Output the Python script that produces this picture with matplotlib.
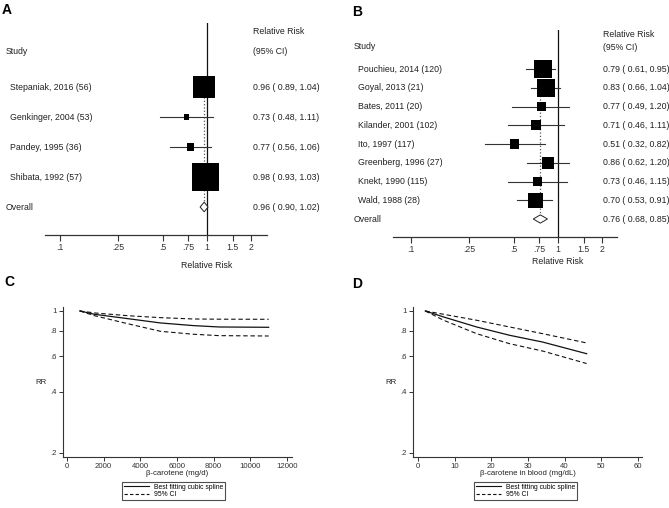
import numpy as np
import matplotlib
matplotlib.use("Agg")
from matplotlib import pyplot as plt
from matplotlib import transforms
from matplotlib.patches import Polygon
from matplotlib.lines import Line2D
from matplotlib.ticker import NullLocator

plt.rcParams['font.family'] = ['Liberation Sans', 'DejaVu Sans']

W, H = 669, 508

# panel A data
studies_a = ["Stepaniak, 2016 (56)", "Genkinger, 2004 (53)", "Pandey, 1995 (36)", "Shibata, 1992 (57)"]
rr_a = [0.96, 0.73, 0.77, 0.98]
lo_a = [0.89, 0.48, 0.56, 0.93]
hi_a = [1.04, 1.11, 1.06, 1.03]
wt_a = [36.7, 1.9, 3.7, 57.7]
overall_a = (0.96, 0.90, 1.02)

# panel B data
studies_b = ["Pouchieu, 2014 (120)", "Goyal, 2013 (21)", "Bates, 2011 (20)", "Kilander, 2001 (102)",
             "Ito, 1997 (117)", "Greenberg, 1996 (27)", "Knekt, 1990 (115)", "Wald, 1988 (28)"]
rr_b = [0.79, 0.83, 0.77, 0.71, 0.51, 0.86, 0.73, 0.70]
lo_b = [0.61, 0.66, 0.49, 0.46, 0.32, 0.62, 0.46, 0.53]
hi_b = [0.95, 1.04, 1.20, 1.11, 0.82, 1.20, 1.15, 0.91]
wt_b = [24.0, 24.0, 6.0, 6.7, 6.0, 10.7, 6.0, 16.7]
overall_b = (0.76, 0.68, 0.85)

rr_ticks = [0.1, 0.25, 0.5, 0.75, 1, 1.5, 2]
rr_ticklabels = [".1", ".25", ".5", ".75", "1", "1.5", "2"]

# panel C data (dose-response, intake)
dose_c = [700, 1500, 3300, 5100, 6900, 8300, 11000]
fit_c = [1.0, 0.963, 0.917, 0.873, 0.847, 0.834, 0.831]
up_c = [1.0, 0.978, 0.948, 0.927, 0.913, 0.911, 0.910]
low_c = [1.0, 0.948, 0.866, 0.794, 0.768, 0.756, 0.753]

# panel D data (dose-response, blood)
dose_d = [2, 7, 16, 25, 34, 46]
fit_d = [1.0, 0.934, 0.834, 0.759, 0.703, 0.616]
up_d = [1.0, 0.963, 0.900, 0.834, 0.773, 0.696]
low_d = [1.0, 0.900, 0.773, 0.690, 0.635, 0.551]

rr_yticks = [0.2, 0.4, 0.6, 0.8, 1]
rr_yticklabels = [".2", ".4", ".6", ".8", "1"]

TXT = '#222222'
FS = 6.3


def rect(x0, y0, x1, y1):
    return [x0 / W, 1 - y1 / H, (x1 - x0) / W, (y1 - y0) / H]


def forest(fig, box, xlim, ylim, studies, rr, lo, hi, wt, overall, lab_x, est_x, hdr_rows):
    ax = fig.add_axes(rect(*box))
    ax.set_xscale('log')
    ax.set_xlim(*xlim)
    ax.set_ylim(*ylim)
    for s in ['left', 'right', 'top']:
        ax.spines[s].set_visible(False)
    ax.spines['bottom'].set_linewidth(0.9)
    ax.spines['bottom'].set_color('#333333')
    ax.set_yticks([])
    ax.set_xticks(rr_ticks)
    ax.set_xticklabels(rr_ticklabels)
    ax.xaxis.set_minor_locator(NullLocator())
    ax.tick_params(axis='x', length=4, width=0.8, labelsize=FS, colors='#333333', pad=2)
    ax.axvline(1, color='#111111', lw=0.9, zorder=2)

    rows = np.arange(len(studies))
    ov_row = len(studies)
    tr = transforms.blended_transform_factory(fig.transFigure, ax.transData)

    for i in rows:
        ax.plot([lo[i], hi[i]], [i, i], color='#333333', lw=0.8, zorder=3)
    sides = 3.68 * np.sqrt(np.array(wt)) * 0.72
    ax.scatter(rr, rows, marker='s', s=sides ** 2, color='black', linewidths=0, zorder=4)

    ov, ol, oh = overall
    ax.plot([ov, ov], [0, ov_row], ls=':', color='#555555', lw=0.9, zorder=2.5)
    h = hdr_rows[3]
    ax.add_patch(Polygon([(ol, ov_row), (ov, ov_row - h), (oh, ov_row), (ov, ov_row + h)],
                         closed=True, facecolor='white', edgecolor='#222222', lw=0.7, zorder=5))

    for i in rows:
        ax.text(lab_x / W, i, studies[i], transform=tr, fontsize=FS, color=TXT, va='center')
        ax.text(est_x / W, i, f"{rr[i]:.2f} ( {lo[i]:.2f}, {hi[i]:.2f})", transform=tr,
                fontsize=FS, color=TXT, va='center')
    ax.text((lab_x - 4) / W, ov_row, "Overall", transform=tr, fontsize=FS, color=TXT, va='center')
    ax.text(est_x / W, ov_row, f"{ov:.2f} ( {ol:.2f}, {oh:.2f})", transform=tr,
            fontsize=FS, color=TXT, va='center')
    ax.text((lab_x - 4) / W, hdr_rows[0], "Study", transform=tr, fontsize=FS, color=TXT, va='center')
    ax.text(est_x / W, hdr_rows[1], "Relative Risk", transform=tr, fontsize=FS, color=TXT, va='center')
    ax.text(est_x / W, hdr_rows[2], "(95% CI)", transform=tr, fontsize=FS, color=TXT, va='center')
    return ax


def spline_panel(fig, box, xlim, xticks, xlabel, x, fit, up, low, legend_xy):
    ax = fig.add_axes(rect(*box))
    ax.plot(x, fit, color='#111111', lw=0.9)
    ax.plot(x, up, color='#111111', lw=0.8, ls=(0, (4, 2.5)))
    ax.plot(x, low, color='#111111', lw=0.8, ls=(0, (4, 2.5)))
    ax.set_xlim(*xlim)
    ax.set_yscale('log')
    ax.set_ylim(0.191, 1.046)
    ax.set_yticks(rr_yticks)
    ax.set_yticklabels(rr_yticklabels)
    ax.yaxis.set_minor_locator(NullLocator())
    ax.set_xticks(xticks)
    for s in ['right', 'top']:
        ax.spines[s].set_visible(False)
    for s in ['left', 'bottom']:
        ax.spines[s].set_linewidth(0.8)
        ax.spines[s].set_color('#333333')
    ax.tick_params(length=3, width=0.7, labelsize=5.6, colors='#333333', pad=1.5)
    ax.set_xlabel(xlabel, fontsize=5.6, color=TXT, labelpad=-0.5)
    ax.set_ylabel("RR", fontsize=5.6, color=TXT, rotation=0, labelpad=7, va='center')
    handles = [Line2D([], [], color='#111111', lw=0.8),
               Line2D([], [], color='#111111', lw=0.8, ls=(0, (3, 2)))]
    leg = fig.legend(handles, ["Best fitting cubic spline", "95% CI"], loc='upper left',
                     bbox_to_anchor=(legend_xy[0] / W, 1 - legend_xy[1] / H),
                     fontsize=4.85, frameon=True, fancybox=False, borderpad=0.25,
                     handlelength=3.7, handletextpad=0.75, labelspacing=0.1, borderaxespad=0)
    leg.get_frame().set_edgecolor('#222222')
    leg.get_frame().set_linewidth(0.8)
    return ax


fig = plt.figure(figsize=(W / 100, H / 100), dpi=100)

# A: x-axis line from px 45 to 267, rows from y=87 step 30
forest(fig, (45, 23, 267, 235), (10 ** -1.102, 10 ** 0.410),
       ((235 - 87) / 30, (23 - 87) / 30),
       studies_a, rr_a, lo_a, hi_a, wt_a, overall_a, 10, 253,
       ((51 - 87) / 30, (31 - 87) / 30, (51 - 87) / 30, 0.16))
fig.text(207 / W, 1 - 266 / H, "Relative Risk", fontsize=FS, color=TXT, ha='center', va='center')

# B
forest(fig, (393, 30, 617, 237), (10 ** -1.1226, 10 ** 0.403),
       ((237 - 69) / 18.75, (30 - 69) / 18.75),
       studies_b, rr_b, lo_b, hi_b, wt_b, overall_b, 358, 603,
       ((46 - 69) / 18.75, (34 - 69) / 18.75, (47 - 69) / 18.75, 0.22))
fig.text(558 / W, 1 - 262 / H, "Relative Risk", fontsize=FS, color=TXT, ha='center', va='center')

# C and D
spline_panel(fig, (63, 307, 292, 457), (-218, 12273), range(0, 12001, 2000),
             "β-carotene (mg/d)", dose_c, fit_c, up_c, low_c, (122, 482))
spline_panel(fig, (413, 307, 642, 457), (-1.36, 61.1), range(0, 61, 10),
             "β-carotene in blood (mg/dL)", dose_d, fit_d, up_d, low_d, (474, 482))

for lab, (px, py) in zip("ABCD", [(2, 10), (352, 12), (4, 282), (352, 284)]):
    fig.text(px / W, 1 - py / H, lab, fontsize=10, fontweight='bold', va='center', ha='left')

fig.savefig("out.png", dpi=100)
